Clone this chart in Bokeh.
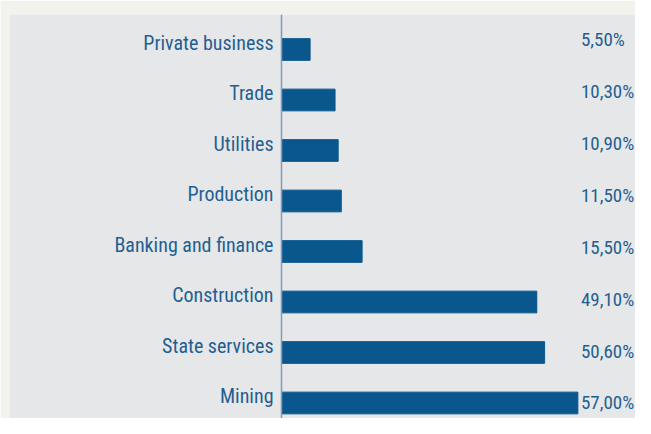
import subprocess
import numpy as np
from bokeh.plotting import figure
from bokeh.models import ColumnDataSource, Range1d, Span
from bokeh.core.properties import value
from bokeh.embed import file_html
from bokeh.resources import INLINE

# data, bottom to top
categories = ["Mining", "State services", "Construction", "Banking and finance",
              "Production", "Utilities", "Trade", "Private business"]
shares = [57.0, 50.6, 49.1, 15.5, 11.5, 10.9, 10.3, 5.5]
share_labels = ["57,00%", "50,60%", "49,10%", "15,50%", "11,50%", "10,90%", "10,30%", "5,50%"]

try:
    fams = subprocess.run(["fc-list", ":", "family"], capture_output=True, text=True).stdout
except Exception:
    fams = ""
FONT = "Roboto"
for cand in ["Roboto Condensed", "Liberation Sans Narrow", "Roboto"]:
    if cand in fams:
        FONT = cand
        break
narrow = FONT != "Roboto"
LABEL_SIZE = "20px" if narrow else "18px"
VALUE_SIZE = "19px" if narrow else "17px"

BLUE = "#0a578e"
TEXT = "#1f5f91"
PANEL = "#e6e7e9"
OUTER = "#f3f3ee"

ys = np.arange(len(categories), dtype=float)
src = ColumnDataSource(dict(y=ys, share=shares, label=share_labels, cat=categories,
                            cy=ys + 0.13, ly=ys * 1.028,
                            lx=[max(shares)] * len(shares), zero=[0.0] * len(shares)))

p = figure(width=635, height=418, output_backend="svg", toolbar_location=None,
           x_range=Range1d(-52.31, 68.08), y_range=Range1d(-0.307, 7.693),
           min_border_left=9, min_border_right=0, min_border_top=14, min_border_bottom=0)
p.background_fill_color = PANEL
p.border_fill_color = OUTER
p.outline_line_color = None
p.grid.visible = False
p.axis.visible = False

p.hbar(y="y", right="share", left=0, height=0.43, source=src, color=BLUE)
p.add_layout(Span(location=0, dimension="height", line_color="#7f9cba", line_width=1.5))

p.text(x="zero", y="cy", text="cat", source=src, x_offset=-8, text_font=value(FONT),
       text_font_size=LABEL_SIZE, text_color=TEXT, text_align="right", text_baseline="middle")
p.text(x="lx", y="ly", text="label", source=src, x_offset=3, text_font=value(FONT),
       text_font_size=VALUE_SIZE, text_color=TEXT, text_align="left", text_baseline="middle")

open("out.html", "w").write(file_html(p, INLINE))
